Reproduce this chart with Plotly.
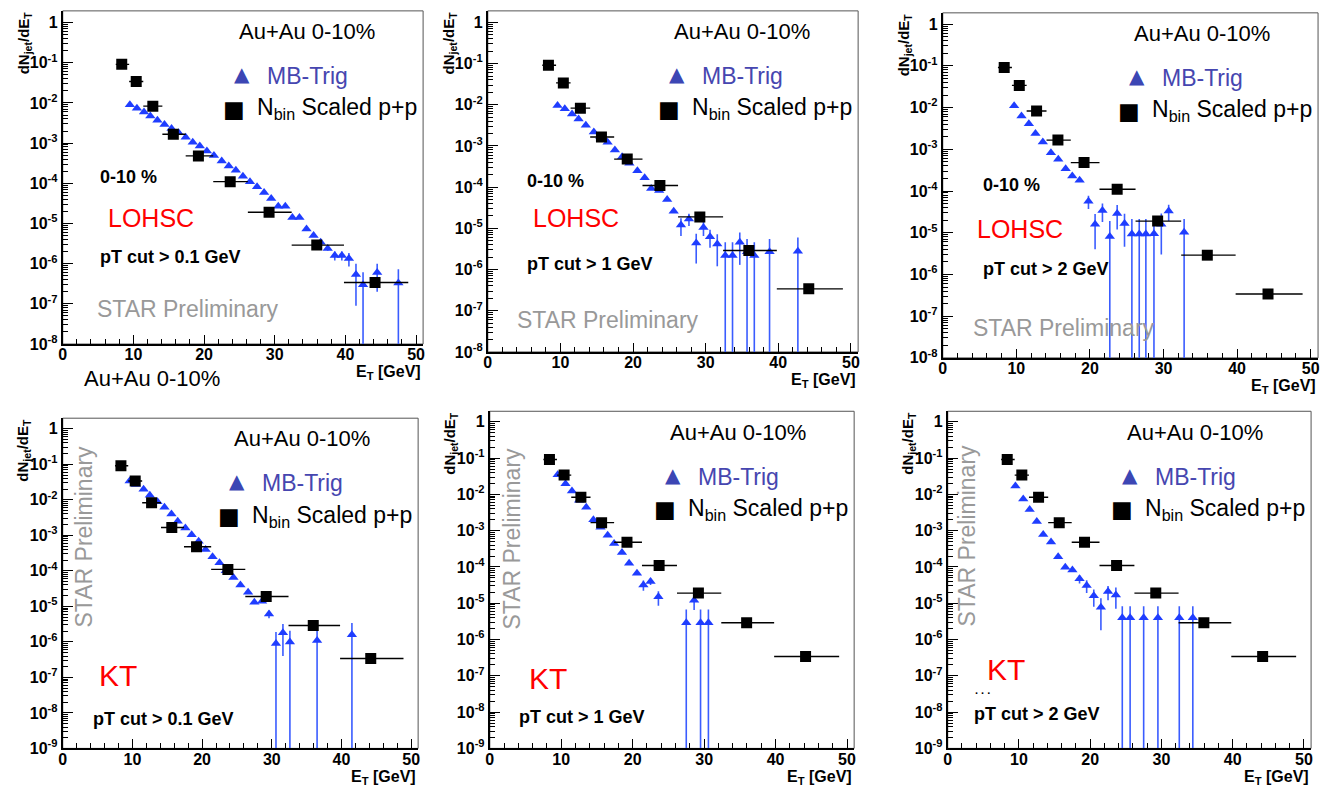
import plotly.graph_objects as go

W, H = 1333, 792

# ---------------------------------------------------------------- data
# N_bin scaled p+p reference spectrum (identical in every panel)
pp_et = [8.35, 10.4, 12.75, 15.65, 19.2, 23.7, 29.2, 35.95, 44.2]
pp_bin_edges = [7.5, 9.4, 11.4, 14.1, 17.4, 21.3, 26.2, 32.4, 39.8, 48.9]
pp_yield = [0.091, 0.034, 0.0083, 0.00166, 0.00048, 1.1e-4, 1.9e-5, 2.9e-6, 3.4e-7]

# Au+Au 0-10% MB-triggered jet spectra
lohsc_01_et = [9.5, 10.5, 11.5, 12.4, 13.4, 14.4, 15.4, 16.4, 17.4, 18.4, 19.4, 20.4,
               21.4, 22.5, 23.5, 24.5, 25.5, 26.5, 27.5, 28.5, 29.5, 30.5, 31.5, 32.5,
               33.5, 34.5, 35.5, 36.5, 37.5, 38.5, 39.5, 40.5, 41.5, 42.5, 44.5, 47.5]
lohsc_01_y = [0.009, 0.0074, 0.0059, 0.0047, 0.0037, 0.0029, 0.0023, 0.0018, 0.0014,
              0.00105, 0.00085, 0.00064, 0.00049, 0.00036, 0.00027, 0.00021, 0.00015,
              0.00011, 8.2e-5, 5.9e-5, 4.2e-5, 2.7e-5, 2.7e-5, 1.4e-5, 1.4e-5, 7.3e-6,
              5.0e-6, 3.4e-6, 2.4e-6, 1.6e-6, 1.6e-6, 1.35e-6, 5.4e-7, 3.0e-7, 6.0e-7, 3.3e-7]
lohsc_01_err = [0, 0, 0, 0, 0, 0, 0, 0, 0, 0, 0, 0, 0, 0, 0, 0, 0, 0, 0, 0, 0, 0, 0, 0,
                0, 0, 0, 0, 0.3e-6, 0.4e-6, 0.4e-6, 0.5e-6, 4.5e-7, 3.1e-7, 4.0e-7, 4.0e-7]

lohsc_1_et = [9.6, 10.6, 11.6, 12.5, 13.5, 14.6, 15.5, 16.5, 17.5, 18.5, 19.5, 20.6, 21.6,
              22.5, 23.6, 24.7, 25.6, 26.6, 27.7, 28.7, 29.7, 30.6, 31.6, 32.7, 33.7, 34.7,
              35.7, 36.7, 38.8, 42.7]
lohsc_1_y = [0.0096, 0.008, 0.006, 0.0045, 0.0032, 0.0022, 0.00167, 0.00123, 0.0008,
             0.00055, 0.00038, 0.00025, 0.00017, 9.3e-5, 8.3e-5, 5.0e-5, 2.6e-5, 1.2e-5,
             1.7e-5, 4.4e-6, 1.05e-5, 6.3e-6, 4.2e-6, 2.2e-6, 2.2e-6, 4.6e-6, 2.7e-6,
             2.2e-6, 2.7e-6, 2.8e-6]
lohsc_1_err = [0, 0, 0, 0, 0, 0, 0, 0, 0, 0, 0, 0, 0, 0, 0, 0, 0, 5.5e-6, 5.5e-6, 3.0e-6,
               4.0e-6, 2.9e-6, 3.0e-6, 2.4e-6, 2.4e-6, 3.3e-6, 2.8e-6, 2.4e-6, 2.8e-6, 3.2e-6]

lohsc_2_et = [9.7, 10.7, 11.7, 12.6, 13.6, 14.7, 15.7, 16.7, 17.6, 18.6, 19.8, 20.7, 21.7,
              22.7, 23.7, 24.7, 25.7, 26.7, 27.6, 28.7, 29.7, 30.7, 32.8]
lohsc_2_y = [0.011, 0.0063, 0.0041, 0.0024, 0.0015, 0.00083, 0.00058, 0.00034, 0.00023,
             0.00018, 5.7e-5, 1.6e-5, 3.4e-5, 8.1e-6, 2.9e-5, 1.66e-5, 9.3e-6, 9.3e-6,
             9.3e-6, 9.5e-6, 1.6e-5, 3.3e-5, 1.02e-5]
lohsc_2_err = [0, 0, 0, 0, 0, 0, 0, 0, 0, 0, 2.0e-5, 1.2e-5, 1.6e-5, 1.1e-5, 1.7e-5, 1.2e-5,
               1.2e-5, 1.2e-5, 1.2e-5, 1.0e-5, 1.3e-5, 1.4e-5, 1.1e-5]

kt_01_et = [9.6, 10.5, 11.6, 12.5, 13.6, 14.6, 15.6, 16.5, 17.6, 18.5, 19.5, 20.5, 21.5,
            22.5, 23.4, 24.5, 25.5, 26.6, 27.5, 28.6, 29.6, 30.6, 31.6, 32.6, 36.5, 41.5]
kt_01_y = [0.034, 0.027, 0.02, 0.0135, 0.0089, 0.0062, 0.004, 0.0025, 0.0016, 0.00104,
           0.00068, 0.0004, 0.00025, 0.00017, 1.0e-4, 6.5e-5, 4.0e-5, 2.5e-5, 1.3e-5,
           1.4e-5, 6.1e-6, 9.0e-7, 1.8e-6, 1.0e-6, 1.1e-6, 1.6e-6]
kt_01_err = [0, 0, 0, 0, 0, 0, 0, 0, 0, 0, 0, 0, 0, 0, 0, 0, 0, 0, 0, 0, 1.5e-6, 1.0e-6,
             1.4e-6, 1.05e-6, 1.4e-6, 1.8e-6]

kt_1_et = [9.5, 10.6, 11.5, 12.5, 13.5, 14.5, 15.5, 16.5, 17.4, 18.5, 19.5, 20.6, 21.5,
           22.5, 23.6, 27.5, 28.6, 29.5, 30.6]
kt_1_y = [0.035, 0.0197, 0.0124, 0.0069, 0.0044, 0.002, 0.00125, 0.00075, 0.00044, 0.00025,
          0.000126, 6.7e-5, 3.2e-5, 4.0e-5, 1.5e-5, 2.9e-6, 1.2e-5, 2.9e-6, 2.9e-6]
kt_1_err = [0, 0, 0, 0, 0, 0, 0, 0, 0, 0, 0, 0, 1.0e-5, 8.0e-6, 6.5e-6, 3.8e-6, 5.5e-6,
            3.8e-6, 3.8e-6]

kt_2_et = [9.5, 10.6, 11.5, 12.5, 13.4, 14.5, 15.5, 16.5, 17.5, 18.5, 19.5, 20.5, 21.5,
           22.5, 23.6, 24.5, 25.6, 27.5, 29.5, 32.5, 34.4]
kt_2_y = [0.017, 0.0074, 0.0038, 0.0018, 0.00078, 0.00049, 0.00019, 9.8e-5, 8.3e-5, 4.7e-5,
          3.1e-5, 1.6e-5, 7.8e-6, 2.1e-5, 1.7e-5, 4.0e-6, 4.0e-6, 4.0e-6, 4.0e-6, 4.0e-6,
          4.0e-6]
kt_2_err = [0, 0, 0, 0, 0, 0, 0, 0, 0, 1.2e-5, 1.2e-5, 8.0e-6, 6.0e-6, 9.0e-6, 1.0e-5,
            4.3e-6, 4.3e-6, 4.3e-6, 4.3e-6, 4.3e-6, 4.3e-6]

x_tick_labels = ["0", "10", "20", "30", "40", "50"]

# ---------------------------------------------------------------- panel layout (pixels)
panels = [
    dict(et=lohsc_01_et, y=lohsc_01_y, err=lohsc_01_err,
         frame=(59, 421, 11, 348), ymin=-8, ytop=0.29),
    dict(et=lohsc_1_et, y=lohsc_1_y, err=lohsc_1_err,
         frame=(486, 858, 11, 356), ymin=-8, ytop=0.28),
    dict(et=lohsc_2_et, y=lohsc_2_y, err=lohsc_2_err,
         frame=(943, 1320, 13, 362), ymin=-8, ytop=0.27),
    dict(et=kt_01_et, y=kt_01_y, err=kt_01_err,
         frame=(59, 416, 423, 757), ymin=-9, ytop=0.30),
    dict(et=kt_1_et, y=kt_1_y, err=kt_1_err,
         frame=(488, 854, 416, 757), ymin=-9, ytop=0.29),
    dict(et=kt_2_et, y=kt_2_y, err=kt_2_err,
         frame=(948, 1313, 416, 757), ymin=-9, ytop=0.29),
]

FONT = "Liberation Sans, Arial, Helvetica, sans-serif"
TRI_BLUE = "#1f3dff"
ERR_BLUE = "#3a5cff"
LEG_BLUE = "#3c46b4"
TXT_BLUE = "#4646b0"


def px(x):
    return x / W


def py(y):
    return 1 - y / H


fig = go.Figure()
annotations = []
shapes = []

pp_minus = [x - lo for x, lo in zip(pp_et, pp_bin_edges[:-1])]
pp_plus = [hi - x for x, hi in zip(pp_et, pp_bin_edges[1:])]

for i, p in enumerate(panels, start=1):
    sx = "" if i == 1 else str(i)
    xref, yref = "x" + sx, "y" + sx
    left, right, top, bottom = p["frame"]

    fig.add_trace(go.Scatter(
        x=p["et"], y=p["y"], mode="markers", xaxis=xref, yaxis=yref,
        marker=dict(symbol="triangle-up", size=9, color=TRI_BLUE, line=dict(width=0)),
        error_y=dict(type="data", array=p["err"], symmetric=True, color=ERR_BLUE,
                     thickness=1.6, width=0),
        showlegend=False, hoverinfo="skip"))
    fig.add_trace(go.Scatter(
        x=pp_et, y=pp_yield, mode="markers", xaxis=xref, yaxis=yref,
        marker=dict(symbol="square", size=11, color="black", line=dict(width=0)),
        error_x=dict(type="data", array=pp_plus, arrayminus=pp_minus, symmetric=False,
                     color="black", thickness=1.4, width=0),
        showlegend=False, hoverinfo="skip"))

    dec = list(range(p["ymin"], 1))
    ticktext = ["<b>1</b>" if d == 0 else "<b>10<sup>%d</sup></b>" % d for d in dec]
    fig.update_layout({
        "xaxis" + sx: dict(
            domain=[px(left), px(right)], anchor=yref, range=[0, 51],
            tickmode="array", tickvals=[0, 10, 20, 30, 40, 50],
            ticktext=["<b>%s</b>" % t for t in x_tick_labels],
            ticks="inside", ticklen=9, tickwidth=1, tickcolor="black",
            ticklabelstandoff=-5,
            minor=dict(ticks="inside", ticklen=5, tickwidth=1, tickcolor="black",
                       tickmode="linear", tick0=0, dtick=2),
            showline=True, linewidth=2, linecolor="black", mirror=False,
            showgrid=False, zeroline=False,
            tickfont=dict(family=FONT, size=16, color="black")),
        "yaxis" + sx: dict(
            domain=[py(bottom), py(top)], anchor=xref, type="log",
            range=[p["ymin"], p["ytop"]],
            tickmode="array", tickvals=[10.0 ** d for d in dec], ticktext=ticktext,
            ticks="inside", ticklen=10, tickwidth=1, tickcolor="black",
            minor=dict(ticks="inside", ticklen=5, tickwidth=1, tickcolor="black",
                       dtick="D1"),
            showline=True, linewidth=2, linecolor="black", mirror=False,
            showgrid=False, zeroline=False,
            tickfont=dict(family=FONT, size=16, color="black")),
    })

    # thin frame around the pad
    shapes.append(dict(type="rect", xref=xref + " domain", yref=yref + " domain",
                       x0=0, x1=1, y0=0, y1=1, line=dict(color="#555", width=1),
                       layer="below"))

    # axis titles
    annotations.append(dict(
        x=px(right), y=py(bottom + 29), xref="paper", yref="paper",
        xanchor="right", yanchor="middle", showarrow=False,
        text="<b>E<sub>T</sub> [GeV]</b>", font=dict(family=FONT, size=16, color="black")))
    annotations.append(dict(
        x=px(left - 39), y=py(top - 2), xref="paper", yref="paper",
        xanchor="center", yanchor="top", showarrow=False, textangle=-90,
        text="<b>dN<sub>jet</sub>/dE<sub>T</sub></b>",
        font=dict(family=FONT, size=15, color="black")))

    # header and legend
    annotations.append(dict(
        x=px(right - 117), y=py(top + 21), xref="paper", yref="paper",
        xanchor="center", yanchor="middle", showarrow=False,
        text="Au+Au 0-10%", font=dict(family=FONT, size=22, color="black")))
    annotations.append(dict(
        x=px(right - 182), y=py(top + 64), xref="paper", yref="paper",
        xanchor="center", yanchor="middle", showarrow=False,
        text="▲", font=dict(family="DejaVu Sans", size=20, color=LEG_BLUE)))
    annotations.append(dict(
        x=px(right - 159), y=py(top + 66), xref="paper", yref="paper",
        xanchor="left", yanchor="middle", showarrow=False,
        text="MB-Trig", font=dict(family=FONT, size=23, color=TXT_BLUE)))
    annotations.append(dict(
        x=px(right - 190), y=py(top + 99), xref="paper", yref="paper",
        xanchor="center", yanchor="middle", showarrow=False,
        text="■", font=dict(family="DejaVu Sans", size=23, color="black")))
    annotations.append(dict(
        x=px(right - 169), y=py(top + 99), xref="paper", yref="paper",
        xanchor="left", yanchor="middle", showarrow=False,
        text="N<sub>bin</sub> Scaled p+p", font=dict(family=FONT, size=23, color="black")))

# in-pad labels (pixel anchors: left edge, vertical centre)
labels = [
    # top row (LOHSC)
    (94, 179, "<b>0-10 %</b>", 18, "black"),
    (102, 221, "LOHSC", 25, "red"),
    (94, 260, "<b>pT cut > 0.1 GeV</b>", 18, "black"),
    (91, 313, "STAR Preliminary", 23, "#999999"),
    (78, 383, "Au+Au 0-10%", 22, "black"),
    (523, 183, "<b>0-10 %</b>", 18, "black"),
    (529, 221, "LOHSC", 25, "red"),
    (523, 267, "<b>pT cut > 1 GeV</b>", 18, "black"),
    (513, 324, "STAR Preliminary", 23, "#999999"),
    (981, 187, "<b>0-10 %</b>", 18, "black"),
    (975, 232, "LOHSC", 25, "red"),
    (981, 272, "<b>pT cut > 2 GeV</b>", 18, "black"),
    (971, 332, "STAR Preliminary", 23, "#999999"),
    # bottom row (KT)
    (93, 683, "KT", 30, "red"),
    (87, 727, "<b>pT cut > 0.1 GeV</b>", 18, "black"),
    (525, 686, "KT", 30, "red"),
    (515, 725, "<b>pT cut > 1 GeV</b>", 18, "black"),
    (985, 677, "KT", 30, "red"),
    (972, 722, "<b>pT cut > 2 GeV</b>", 18, "black"),
    (973, 698, "<b>. . .</b>", 11, "black"),
]
for lx, ly, txt, size, col in labels:
    annotations.append(dict(
        x=px(lx), y=py(ly), xref="paper", yref="paper", xanchor="left",
        yanchor="middle", showarrow=False, text=txt,
        font=dict(family=FONT, size=size, color=col)))

# vertical watermark in the KT pads
for vx, vy in [(80, 543), (510, 545), (967, 542)]:
    annotations.append(dict(
        x=px(vx), y=py(vy), xref="paper", yref="paper", xanchor="center",
        yanchor="middle", showarrow=False, textangle=-90, text="STAR Preliminary",
        font=dict(family=FONT, size=23, color="#999999")))

fig.update_layout(
    width=W, height=H, margin=dict(l=0, r=0, t=0, b=0),
    paper_bgcolor="white", plot_bgcolor="rgba(0,0,0,0)",
    annotations=annotations, shapes=shapes, showlegend=False,
    font=dict(family=FONT, color="black"),
)

fig.write_html("out.html")
